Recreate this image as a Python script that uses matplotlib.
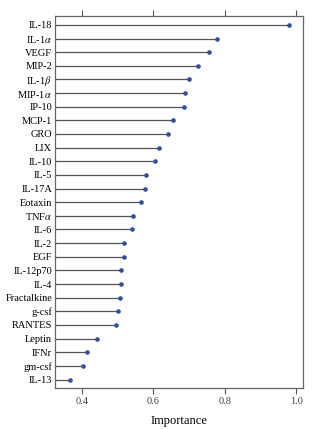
import matplotlib
matplotlib.use("Agg")
import matplotlib.pyplot as plt

plt.rcParams['font.family'] = ['Liberation Serif', 'DejaVu Serif']
plt.rcParams['mathtext.fontset'] = 'stix'

features = ["IL-18", r"IL-1$\alpha$", "VEGF", "MIP-2", r"IL-1$\beta$", r"MIP-1$\alpha$",
            "IP-10", "MCP-1", "GRO", "LIX", "IL-10", "IL-5", "IL-17A", "Eotaxin",
            r"TNF$\alpha$", "IL-6", "IL-2", "EGF", "IL-12p70", "IL-4", "Fractalkine",
            "g-csf", "RANTES", "Leptin", "IFNr", "gm-csf", "IL-13"]
importance = [0.979, 0.778, 0.756, 0.726, 0.701, 0.690, 0.685, 0.656, 0.642, 0.617,
              0.605, 0.579, 0.576, 0.565, 0.544, 0.541, 0.519, 0.517, 0.510, 0.510,
              0.508, 0.502, 0.496, 0.443, 0.414, 0.403, 0.366]
xticks = [0.4, 0.6, 0.8, 1.0]

fig = plt.figure(figsize=(3.22, 4.29), dpi=100)
ax = fig.add_axes([55/322, 1-387.7/429, (303.3-55)/322, (387.7-16)/429])

xmin, xmax = 0.325, 1.02
n = len(features)
ys = list(range(n))
ax.hlines(ys, xmin, importance, color='#555555', linewidth=0.9)
ax.plot(importance, ys, 'o', color='#2f4f9a', markersize=2.3)

ax.set_xlim(xmin, xmax)
ax.set_ylim(n - 1 + 0.6, -0.65)
ax.set_yticks(ys)
ax.set_yticklabels(features, fontsize=7.5)
ax.tick_params(axis='y', length=0, pad=2)
ax.set_xticks(xticks)
ax.set_xticklabels([f"{t:.1f}" for t in xticks], fontsize=7.5, color='#444444')
ax.tick_params(axis='x', top=True, bottom=True, direction='out', length=4,
               width=0.8, color='#555555', pad=3)
ax.set_xlabel("Importance", fontsize=9, labelpad=6)
for s in ax.spines.values():
    s.set_color('#666666')
    s.set_linewidth(0.9)

fig.savefig("out.png", dpi=100)
